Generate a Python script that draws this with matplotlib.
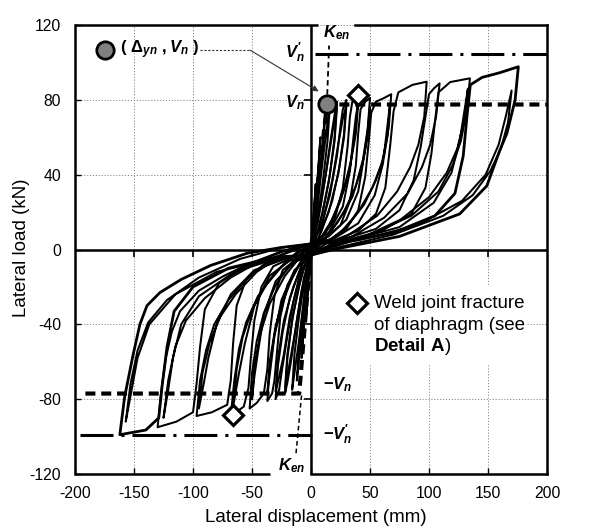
import matplotlib
matplotlib.use("Agg")
import matplotlib.pyplot as plt
from matplotlib.markers import TICKDOWN, TICKLEFT
from matplotlib.patches import Rectangle

plt.rcParams['font.family'] = ['Liberation Sans', 'DejaVu Sans']
plt.rcParams['mathtext.fontset'] = 'custom'
plt.rcParams['mathtext.it'] = 'Liberation Sans:italic:bold'
plt.rcParams['mathtext.rm'] = 'Liberation Sans:bold'
plt.rcParams['mathtext.bf'] = 'Liberation Sans:bold'
plt.rcParams['axes.unicode_minus'] = False

# ---------------- data ----------------
x_ticks = [-200, -150, -100, -50, 0, 50, 100, 150, 200]
y_ticks = [-120, -80, -40, 0, 40, 80, 120]

# positive half-cycles (displacement mm, load kN)
p004 = [(0,3),(2,16),(4,35),(2,14),(0,-3)]
p008 = [(0,3),(3,20),(6,42),(8,60),(6,40),(3,18),(0,-3)]
p012 = [(0,3),(4,21),(8,46),(12,72),(10,52),(6,30),(2,8),(0,-3)]
p016 = [(0,3),(5,21),(10,48),(14,68),(16,77),(14,58),(10,36),(5,14),(0,-3)]
p022 = [(0,3),(6,15),(12,38),(17,60),(20,72),(22,79),(20,60),(16,40),(10,20),(4,6),(0,-3)]
p022b = [(0,3),(8,23),(14,46),(19,66),(22,76),(20,58),(15,36),(8,15),(0,-3)]
p030 = [(0,3),(8,11),(16,29),(22,50),(25,66),(27,75),(30,80),(28,62),(24,44),(18,26),(9,10),(0,-3)]
p030b = [(0,3),(10,15),(18,37),(23,56),(27,70),(30,77),(28,60),(23,40),(15,20),(6,6),(0,-3)]
p040 = [(0,3),(10,7),(20,16),(27,33),(31,55),(33,71),(35,79),(40,82.6),(38,65),(34,48),(28,32),(18,16),(6,4),(0,-3)]
p040b = [(0,3),(15,9),(27,23),(33,42),(36,60),(38,71),(40,78),(38,62),(33,44),(25,26),(14,11),(0,-3)]
p050 = [(0,3),(12,6),(25,13),(33,26),(38,45),(40,62),(42,75),(46,79),(50,81),(48,64),(44,48),(38,34),(28,20),(15,8),(0,-3)]
p050b = [(0,3),(15,7),(30,16),(40,31),(45,50),(48,64),(50,76),(48,60),(43,44),(35,28),(22,14),(8,3),(0,-3)]
p068 = [(0,3),(15,5),(30,11),(40,21),(46,39),(49,58),(51,73),(55,79),(62,81),(68,83),(66,66),(62,50),(55,37),(45,24),(30,12),(12,3),(0,-3)]
p068b = [(0,3),(20,6),(40,14),(54,29),(61,46),(64,62),(67,78),(65,61),(60,46),(52,33),(40,20),(25,9),(8,1),(0,-3)]
p098 = [(0,3),(20,5),(40,10),(55,19),(63,33),(67,55),(70,74),(74,84),(86,88),(98,89.7),(96,71),(91,56),(84,44),(73,31),(56,18),(30,7),(8,0),(0,-3)]
p108 = [(0,3),(25,5),(55,11),(75,21),(87,37),(93,55),(97,71),(100,83),(104,86),(109,88.8),(106,71),(101,56),(94,44),(82,30),(62,17),(35,7),(10,0),(0,-3)]
p135 = [(0,3),(30,5),(60,10),(85,19),(97,33),(102,51),(105,68),(108,84),(118,89.5),(134.7,91.5),(132,74),(127,58),(120,45),(108,31),(85,18),(50,8),(15,1),(0,-3)]
p135b = [(0,3),(35,5),(75,12),(104,25),(119,41),(126,58),(130,74),(133,86),(130,69),(124,54),(115,41),(100,28),(76,16),(42,6),(12,0),(0,-3)]
p175 = [(0,3),(30,4),(70,9),(105,18),(122,30),(129,50),(132,70),(135,88),(145,92),(160,94.5),(175.7,97.7),(173,80),(166,62),(160,53),(149,34),(126,19),(75,7),(19,0),(0,-3)]
p170b = [(0,3),(40,5),(90,13),(128,26),(148,40),(159,56),(165,71),(170,85),(167,68),(161,54),(152,42),(137,29),(112,18),(70,8),(22,1),(0,-3)]

# negative half-cycles
n004 = [(0,-3),(-2,-15),(-4,-35),(-2,-12),(0,3)]
n008 = [(0,-3),(-3,-19),(-6,-40),(-8,-58),(-6,-38),(-3,-16),(0,3)]
n012 = [(0,-3),(-4,-21),(-8,-46),(-12,-70),(-10,-50),(-6,-28),(-2,-6),(0,3)]
n016 = [(0,-3),(-5,-21),(-10,-48),(-14,-66),(-16,-75),(-14,-56),(-10,-35),(-5,-14),(0,3)]
n022 = [(0,-3),(-6,-15),(-12,-38),(-17,-60),(-20,-71),(-22,-77),(-20,-58),(-16,-38),(-10,-19),(-4,-6),(0,3)]
n022b = [(0,-3),(-8,-22),(-14,-46),(-19,-64),(-22,-74),(-20,-56),(-15,-34),(-8,-14),(0,3)]
n030 = [(0,-3),(-8,-11),(-15,-28),(-21,-50),(-25,-66),(-27,-75),(-30,-80),(-28,-62),(-24,-44),(-18,-26),(-9,-10),(0,3)]
n030b = [(0,-3),(-10,-15),(-18,-36),(-23,-56),(-27,-68),(-30,-76),(-28,-58),(-23,-38),(-15,-20),(-6,-6),(0,3)]
n037 = [(0,-3),(-10,-8),(-20,-19),(-26,-36),(-29,-56),(-31,-70),(-33,-77),(-37,-81),(-35,-63),(-31,-46),(-25,-30),(-16,-15),(-6,-4),(0,3)]
n037b = [(0,-3),(-14,-11),(-25,-27),(-31,-46),(-34,-62),(-37,-77),(-35,-60),(-30,-41),(-22,-23),(-10,-8),(0,3)]
n052 = [(0,-3),(-12,-5),(-24,-11),(-31,-25),(-35,-45),(-37,-64),(-40,-77),(-46,-82),(-52,-85),(-50,-66),(-46,-49),(-40,-34),(-30,-19),(-15,-6),(0,3)]
n050b = [(0,-3),(-15,-7),(-30,-17),(-40,-35),(-45,-55),(-48,-68),(-50,-80),(-48,-62),(-43,-45),(-35,-29),(-22,-14),(-8,-3),(0,3)]
n068 = [(0,-3),(-15,-4),(-32,-9),(-42,-20),(-48,-38),(-51,-58),(-53,-74),(-57,-84),(-68,-89),(-65,-70),(-61,-53),(-55,-39),(-45,-25),(-30,-12),(-13,-2),(0,3)]
n066b = [(0,-3),(-18,-6),(-35,-14),(-48,-30),(-56,-50),(-61,-66),(-66,-84),(-63,-64),(-58,-47),(-50,-32),(-38,-19),(-22,-7),(0,3)]
n097 = [(0,-3),(-20,-4),(-40,-8),(-55,-16),(-63,-30),(-66,-50),(-68,-70),(-71,-83),(-84,-87),(-97,-89),(-94,-70),(-89,-54),(-82,-40),(-70,-27),(-52,-14),(-30,-4),(-10,1),(0,3)]
n095b = [(0,-3),(-22,-5),(-48,-11),(-68,-24),(-80,-40),(-87,-58),(-91,-72),(-95,-85),(-92,-66),(-86,-50),(-77,-36),(-64,-24),(-46,-12),(-25,-3),(0,3)]
n130 = [(0,-3),(-25,-4),(-55,-9),(-78,-18),(-90,-32),(-94,-52),(-97,-72),(-100,-87),(-114,-92),(-130,-95),(-127,-76),(-123,-58),(-118,-44),(-111,-33),(-95,-22),(-75,-14.5),(-54,-8),(-25,-1),(0,3)]
n125b = [(0,-3),(-30,-5),(-65,-12),(-95,-25),(-110,-40),(-117,-58),(-121,-75),(-125,-90),(-121,-70),(-115,-52),(-106,-38),(-90,-26),(-68,-15),(-40,-5),(-15,1),(0,3)]
n162 = [(0,-3),(-30,-4),(-70,-10),(-100,-20),(-116,-33),(-122,-52),(-126,-72),(-129,-90),(-140,-96.5),(-162,-99),(-158,-79),(-151,-57),(-145,-40),(-139,-30),(-128,-23),(-110,-16),(-85,-8.5),(-54,-2),(-26,1),(0,3)]
n157b = [(0,-3),(-35,-5),(-80,-12),(-115,-24),(-137,-40),(-147,-58),(-152,-75),(-157,-92),(-153,-72),(-147,-54),(-138,-39),(-122,-27),(-95,-15),(-60,-5),(-25,1),(0,3)]

inner_loops = [p004, n004, p008, n008, p012, n012, p016, n016, p022, n022, p022b, n022b,
               p030, n030, p030b, n030b, p040, n037, p040b, n037b, p050, n052, p050b, n050b,
               p068, n068, p068b, n066b, p098, n097, p108, n095b, p135, n130, p135b, n125b,
               p170b, n157b]
outer_loops = [p175, n162]

# idealised bilinear and reference levels
Vn_pos, Vn_neg = 77.5, -77.0
Vn2_pos, Vn2_neg = 104.5, -99.0
yield_pt = (13.5, 78.0)
bilin_pos_x = [0, 13.5, 200]
bilin_pos_y = [0, Vn_pos, Vn_pos]
bilin_neg_x = [0, -10, -196]
bilin_neg_y = [0, Vn_neg, Vn_neg]
ken_pos_x, ken_pos_y = [13.5, 15.3], [78, 109]
ken_neg_x, ken_neg_y = [-8, -12.7], [-78, -109]
fracture_pts_x = [40, -66]
fracture_pts_y = [82.6, -88.5]

# ---------------- figure ----------------
fig = plt.figure(figsize=(5.89, 5.29), dpi=100)
ax = fig.add_axes([75/589, 1-474/529, 472/589, 449/529])
ax.set_xlim(-200, 200)
ax.set_ylim(-120, 120)
ax.set_xticks(x_ticks)
ax.set_yticks(y_ticks)
ax.tick_params(direction='in', length=4, width=1, labelsize=11.3, colors='k')
ax.tick_params(axis='x', pad=9)
ax.tick_params(axis='y', pad=10)
ax.grid(True, color='#8a8a8a', lw=0.7, ls=(0, (1.2, 1.8)))
ax.set_axisbelow(True)
for s in ax.spines.values():
    s.set_linewidth(1.8)
ax.spines['top'].set_bounds(37.7, 200)
ax.spines['bottom'].set_bounds(0, 200)
ax.plot([-200, 6], [120, 120], color='k', lw=1.8, clip_on=False, solid_capstyle='butt', zorder=5)
ax.plot([-200, -35], [-120, -120], color='k', lw=1.8, clip_on=False, solid_capstyle='butt', zorder=5)

ax.axhline(0, color='k', lw=1.8, zorder=2)
ax.axvline(0, color='k', lw=1.8, zorder=2)
ax.plot([-150, -100, -50, 50, 100, 150], [0]*6, ls='none', marker=TICKDOWN, ms=5, mew=1.2, color='k', zorder=2)
ax.plot([0]*4, [-80, -40, 40, 80], ls='none', marker=TICKLEFT, ms=5, mew=1.2, color='k', zorder=2)

# hysteresis loops
for loop in inner_loops:
    xs = [p[0] for p in loop]
    ys = [p[1] for p in loop]
    ax.plot(xs, ys, color='k', lw=1.45, solid_joinstyle='round', zorder=3)
for loop in outer_loops:
    xs = [p[0] for p in loop]
    ys = [p[1] for p in loop]
    ax.plot(xs, ys, color='k', lw=2.0, solid_joinstyle='round', zorder=3)

# bilinear (thick dashed)
ax.plot(bilin_pos_x, bilin_pos_y, color='k', lw=3, dashes=(2.4, 1.4), zorder=4)
ax.plot(bilin_neg_x, bilin_neg_y, color='k', lw=3, dashes=(2.4, 1.4), zorder=4)
# V'n (dash-dot)
ax.plot([3, 200], [Vn2_pos, Vn2_pos], color='k', lw=2.2, dashes=(10.8, 2.6, 1, 2.6), zorder=4)
ax.plot([-196, 1], [Vn2_neg, Vn2_neg], color='k', lw=2.2, dashes=(10.8, 2.6, 1, 2.6), zorder=4)
# Ken extension (thin dashed)
ax.plot(ken_pos_x, ken_pos_y, color='k', lw=1.3, dashes=(3, 2), zorder=4)
ax.plot(ken_neg_x, ken_neg_y, color='k', lw=1.1, dashes=(3, 2), zorder=4)

# markers
ax.plot([yield_pt[0]], [yield_pt[1]], 'o', ms=12.5, mfc='#808080', mec='k', mew=2, zorder=6)
ax.plot(fracture_pts_x, fracture_pts_y, 'D', ms=10.5, mfc='white', mec='k', mew=2.3, zorder=6)

# legend-like annotations
ax.plot([-174.6], [106.6], 'o', ms=12.5, mfc='#808080', mec='k', mew=2, zorder=6)
ax.text(-162, 106.6, r'$(\ \mathit{\Delta}_{yn}\ ,V_n\ )$', ha='left', va='center', fontsize=12, zorder=7)
ax.plot([-94, -51.7], [106.6, 106.6], color='#333333', lw=0.8, dashes=(2, 1.5), zorder=4)
ax.annotate('', xy=(6.5, 84.5), xytext=(-51.7, 106.6),
            arrowprops=dict(arrowstyle='-|>', color='#333333', lw=0.8, mutation_scale=9,
                            shrinkA=0, shrinkB=0), zorder=5)

ax.add_patch(Rectangle((48.5, -61.7), 134.5, 42.7, fc='white', ec='none', zorder=1))
ax.plot([39], [-28.6], 'D', ms=10.5, mfc='white', mec='k', mew=2.3, zorder=6)
ax.text(53.4, -28.6, 'Weld joint fracture', ha='left', va='center', fontsize=13.5, zorder=7)
ax.text(53.4, -40.4, 'of diaphragm (see', ha='left', va='center', fontsize=13.5, zorder=7)
ax.text(53.4, -52.1, r'$\mathbf{Detail\ A}$)', ha='left', va='center', fontsize=13.5, zorder=7)

# level labels
ax.text(-5, 105, r"$V_n'$", ha='right', va='center', fontsize=12, zorder=7)
ax.text(-5, 78.5, r"$V_n$", ha='right', va='center', fontsize=12, zorder=7)
ax.text(10, -72, r"$-V_n$", ha='left', va='center', fontsize=12, zorder=7)
ax.text(10, -99, r"$-V_n'$", ha='left', va='center', fontsize=12, zorder=7)
ax.text(10, 116, r"$K_{en}$", ha='left', va='center', fontsize=12, zorder=7)
ax.text(-28, -115.7, r"$K_{en}$", ha='left', va='center', fontsize=12, zorder=7)

fig.text(316/589, 1-518/529, 'Lateral displacement (mm)', ha='center', va='center', fontsize=13.5)
fig.text(22/589, 1-248/529, 'Lateral load (kN)', ha='center', va='center', rotation=90, fontsize=13.5)

fig.savefig('out.png', dpi=100)
